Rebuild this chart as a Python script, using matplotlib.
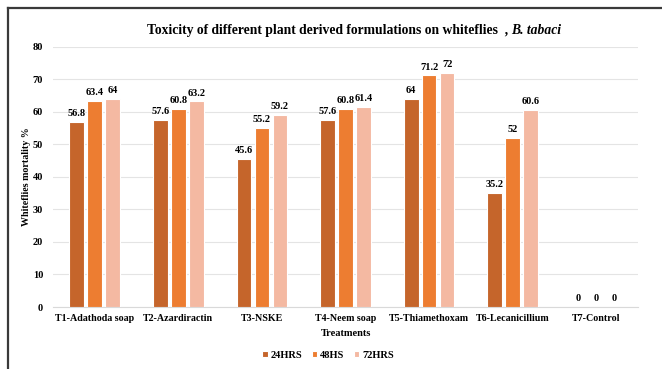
import matplotlib

matplotlib.use("Agg")
import matplotlib.pyplot as plt
import numpy as np
from matplotlib.lines import Line2D

# data
treatments = ["T1-Adathoda soap", "T2-Azardiractin", "T3-NSKE", "T4-Neem soap",
              "T5-Thiamethoxam", "T6-Lecanicillium", "T7-Control"]
series_names = ["24HRS", "48HS", "72HRS"]
hrs24 = [56.8, 57.6, 45.6, 57.6, 64, 35.2, 0]
hrs48 = [63.4, 60.8, 55.2, 60.8, 71.2, 52, 0]
hrs72 = [64, 63.2, 59.2, 61.4, 72, 60.6, 0]
colors = ["#C5652B", "#ED7D31", "#F4B9A2"]

plt.rcParams["font.family"] = ["Liberation Serif", "DejaVu Serif"]
plt.rcParams["font.weight"] = "bold"

fig = plt.figure(figsize=(6.62, 3.69), dpi=100)
ax = fig.add_axes([0.080, 0.168, 0.884, 0.705])

x = np.arange(len(treatments))
slot = 0.215
for i, (vals, name, col) in enumerate(zip([hrs24, hrs48, hrs72], series_names, colors)):
    pos = x + (i - 1) * slot
    bars = ax.bar(pos, vals, width=0.175, color=col, edgecolor="white",
                  linewidth=0.8, label=name, zorder=3)
    for b, v in zip(bars, vals):
        ax.text(b.get_x() + b.get_width() / 2, v + 1.2, f"{v:g}",
                ha="center", va="bottom", fontsize=7.5, fontweight="bold")

ax.set_xlim(-0.5, len(treatments) - 0.5)
ax.set_ylim(0, 80)
ax.set_yticks(range(0, 81, 10))
ax.set_xticks(x)
ax.set_xticklabels(treatments, fontsize=7.2, fontweight="bold")
ax.tick_params(axis="y", labelsize=7.5, length=0, pad=7)
ax.tick_params(axis="x", length=0, pad=5)
ax.grid(axis="y", color="#E4E4E4", linewidth=0.8, zorder=0)
for s in ["top", "right", "left"]:
    ax.spines[s].set_visible(False)
ax.spines["bottom"].set_color("#D9D9D9")

ax.set_ylabel("Whiteflies mortality %", fontsize=7.2, fontweight="bold", labelpad=1.5)
ax.set_xlabel("Treatments", fontsize=7.5, fontweight="bold", labelpad=4)

# title: roman part + italic species name, placed side by side
title_main = "Toxicity of different plant derived formulations on whiteflies  , "
title_ital = "B. tabaci"
fig.canvas.draw()
r = fig.canvas.get_renderer()
t1 = fig.text(0, 0.918, title_main, ha="left", va="center", fontsize=9.8, fontweight="bold")
t2 = fig.text(0, 0.918, title_ital, ha="left", va="center", fontsize=9.8,
              fontweight="bold", style="italic")
w1 = t1.get_window_extent(r).width
w2 = t2.get_window_extent(r).width
x0 = (354 - (w1 + w2) / 2) / fig.bbox.width
t1.set_x(x0)
t2.set_x(x0 + w1 / fig.bbox.width)

ax.legend(loc="center", bbox_to_anchor=(0.47, -0.185), ncol=3, frameon=False,
          fontsize=7.5, handlelength=0.55, handleheight=0.55, handletextpad=0.25,
          columnspacing=0.9)

fig.add_artist(Line2D([8 / 662, 1], [1 - 8 / 369, 1 - 8 / 369], color="#3A3A3A",
                      linewidth=1.6, transform=fig.transFigure))
fig.add_artist(Line2D([8 / 662, 8 / 662], [0, 1 - 8 / 369], color="#3A3A3A",
                      linewidth=1.6, transform=fig.transFigure))

fig.savefig("out.png", dpi=100)
